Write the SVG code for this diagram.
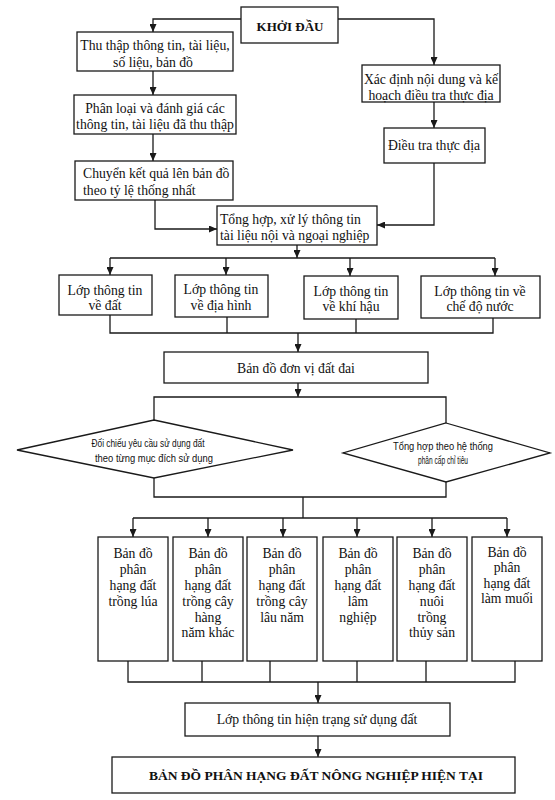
<svg xmlns="http://www.w3.org/2000/svg" width="555" height="800" viewBox="0 0 555 800">
<style>
.box{fill:#fff;stroke:#1a1a1a;stroke-width:1.3}
.t{font-family:"Liberation Serif","Times New Roman",serif;font-size:13.7px;fill:#111;text-anchor:middle}
.tl{font-family:"Liberation Serif","Times New Roman",serif;font-size:13.7px;fill:#111;text-anchor:start}
.b{font-family:"Liberation Serif","Times New Roman",serif;font-weight:bold;font-size:13.5px;fill:#111;text-anchor:middle}
.s{font-family:"Liberation Sans",Arial,sans-serif;font-size:10px;fill:#111;text-anchor:middle}
.c{fill:none;stroke:#1a1a1a;stroke-width:1.3}
</style>
<defs>
<marker id="ah" markerUnits="userSpaceOnUse" markerWidth="8" markerHeight="7" refX="8" refY="3.5" orient="auto">
<path d="M0,0 L8,3.5 L0,7 z" fill="#1a1a1a"/>
</marker>
</defs>
<rect width="555" height="800" fill="#fff"/>
<g id="connectors">
<path class="c" d="M241,19 H153 V32" marker-end="url(#ah)"/>
<path class="c" d="M338,19 H434 V65" marker-end="url(#ah)"/>
<path class="c" d="M153,71 V95" marker-end="url(#ah)"/>
<path class="c" d="M153,134 V161" marker-end="url(#ah)"/>
<path class="c" d="M434,102 V128" marker-end="url(#ah)"/>
<path class="c" d="M155,200 V229 H217" marker-end="url(#ah)"/>
<path class="c" d="M434,163 V225 H377" marker-end="url(#ah)"/>
<path class="c" d="M297,245 V258" marker-end="url(#ah)"/>
<path class="c" d="M110,258 H495"/>
<path class="c" d="M110,258 V275" marker-end="url(#ah)"/>
<path class="c" d="M226,258 V275" marker-end="url(#ah)"/>
<path class="c" d="M350,258 V276" marker-end="url(#ah)"/>
<path class="c" d="M495,258 V276" marker-end="url(#ah)"/>
<path class="c" d="M110,315 V333 H493 V318 M227,317 V333 M356,319 V333"/>
<path class="c" d="M298,333 V352" marker-end="url(#ah)"/>
<path class="c" d="M298,383 V397" marker-end="url(#ah)"/>
<path class="c" d="M154,420 V397 H446 V423"/>
<path class="c" d="M154,478 V497 H446 V482 M303,497 V518"/>
<path class="c" d="M133,518 H507"/>
<path class="c" d="M133,518 V537" marker-end="url(#ah)"/>
<path class="c" d="M208,518 V537" marker-end="url(#ah)"/>
<path class="c" d="M283,518 V537" marker-end="url(#ah)"/>
<path class="c" d="M357,518 V537" marker-end="url(#ah)"/>
<path class="c" d="M432,518 V537" marker-end="url(#ah)"/>
<path class="c" d="M507,518 V537" marker-end="url(#ah)"/>
<path class="c" d="M128,661 V682 H515 V661 M202,661 V682 M270,661 V682 M357,661 V682 M426,661 V682"/>
<path class="c" d="M318,682 V703" marker-end="url(#ah)"/>
<path class="c" d="M318,736 V757" marker-end="url(#ah)"/>
</g>
<g id="n-start"><rect class="box" x="241" y="7" width="97" height="36"/><text class="b" x="290" y="31" style="font-size:13px">KHỞI ĐẦU</text></g>
<g id="n-thuthap"><rect class="box" x="77" y="32" width="156" height="39"/><text class="t" x="155" y="50">Thu thập thông tin, tài liệu,</text><text class="t" x="153" y="67">số liệu, bản đồ</text></g>
<g id="n-phanloai"><rect class="box" x="74" y="95" width="162" height="39"/><text class="t" x="155" y="113">Phân loại và đánh giá các</text><text class="t" x="155" y="129">thông tin, tài liệu đã thu thập</text></g>
<g id="n-chuyen"><rect class="box" x="75" y="161" width="158" height="39"/><text class="tl" x="83" y="178">Chuyển kết quả lên bản đồ</text><text class="tl" x="83" y="195">theo tỷ lệ thống nhất</text></g>
<g id="n-xacdinh"><rect class="box" x="362" y="65" width="138" height="37"/><text class="t" x="431" y="84">Xác định nội dung và kế</text><text class="t" x="431" y="100">hoạch điều tra thực địa</text></g>
<g id="n-dieutra"><rect class="box" x="384" y="128" width="101" height="35"/><text class="t" x="434" y="150">Điều tra thực địa</text></g>
<g id="n-tonghop"><rect class="box" x="217" y="206" width="160" height="39"/><text class="tl" x="220" y="224">Tổng hợp, xử lý thông tin</text><text class="tl" x="220" y="240">tài liệu nội và ngoại nghiệp</text></g>
<g id="n-dat"><rect class="box" x="59" y="275" width="93" height="40"/><text class="t" x="105" y="295">Lớp thông tin</text><text class="t" x="105" y="310">về đất</text></g>
<g id="n-diahinh"><rect class="box" x="175" y="275" width="93" height="42"/><text class="t" x="221" y="294">Lớp thông tin</text><text class="t" x="221" y="310">về địa hình</text></g>
<g id="n-khihau"><rect class="box" x="304" y="276" width="94" height="43"/><text class="t" x="351" y="296">Lớp thông tin</text><text class="t" x="351" y="311">về khí hậu</text></g>
<g id="n-nuoc"><rect class="box" x="421" y="276" width="119" height="42"/><text class="t" x="480" y="296">Lớp thông tin về</text><text class="t" x="480" y="311">chế độ nước</text></g>
<g id="n-donvi"><rect class="box" x="164" y="352" width="264" height="31"/><text class="t" x="296" y="373">Bản đồ đơn vị đất đai</text></g>
<g id="n-doichieu"><polygon class="box" points="154,420 293,450 154,478 17,450"/><text class="s" x="148" y="446.5" textLength="113" lengthAdjust="spacingAndGlyphs">Đối chiếu yêu cầu sử dụng đất</text><text class="s" x="154" y="461.5" textLength="118" lengthAdjust="spacingAndGlyphs">theo từng mục đích sử dụng</text></g>
<g id="n-hethong"><polygon class="box" points="446,423 550,453 446,482 343,453"/><text class="s" x="443" y="449.5" textLength="100" lengthAdjust="spacingAndGlyphs">Tổng hợp theo hệ thống</text><text class="s" x="443" y="463.5" textLength="50" lengthAdjust="spacingAndGlyphs">phân cấp chỉ tiêu</text></g>
<g id="n-lua"><rect class="box" x="98" y="537" width="70" height="124"/><text class="t" x="133" y="558">Bản đồ</text><text class="t" x="133" y="574">phân</text><text class="t" x="133" y="590">hạng đất</text><text class="t" x="133" y="606">trồng lúa</text></g>
<g id="n-hangnam"><rect class="box" x="173" y="537" width="70" height="124"/><text class="t" x="208" y="558">Bản đồ</text><text class="t" x="208" y="574">phân</text><text class="t" x="208" y="590">hạng đất</text><text class="t" x="208" y="606">trồng cây</text><text class="t" x="208" y="622">hàng</text><text class="t" x="208" y="637">năm khác</text></g>
<g id="n-launam"><rect class="box" x="247" y="537" width="70" height="124"/><text class="t" x="282" y="558">Bản đồ</text><text class="t" x="282" y="574">phân</text><text class="t" x="282" y="590">hạng đất</text><text class="t" x="282" y="606">trồng cây</text><text class="t" x="282" y="622">lâu năm</text></g>
<g id="n-lamnghiep"><rect class="box" x="323" y="537" width="70" height="124"/><text class="t" x="358" y="558">Bản đồ</text><text class="t" x="358" y="574">phân</text><text class="t" x="358" y="590">hạng đất</text><text class="t" x="358" y="606">lâm</text><text class="t" x="358" y="622">nghiệp</text></g>
<g id="n-thuysan"><rect class="box" x="397" y="537" width="70" height="124"/><text class="t" x="432" y="558">Bản đồ</text><text class="t" x="432" y="574">phân</text><text class="t" x="432" y="590">hạng đất</text><text class="t" x="432" y="606">nuôi</text><text class="t" x="432" y="622">trồng</text><text class="t" x="432" y="637">thủy sản</text></g>
<g id="n-muoi"><rect class="box" x="472" y="537" width="70" height="124"/><text class="t" x="507" y="557">Bản đồ</text><text class="t" x="507" y="572">phân</text><text class="t" x="507" y="588">hạng đất</text><text class="t" x="507" y="603">làm muối</text></g>
<g id="n-hientrang"><rect class="box" x="185" y="703" width="265" height="33"/><text class="t" x="317" y="724">Lớp thông tin hiện trạng sử dụng đất</text></g>
<g id="n-final"><rect class="box" x="112" y="757" width="403" height="36"/><text class="b" x="316" y="780">BẢN ĐỒ PHÂN HẠNG ĐẤT NÔNG NGHIỆP HIỆN TẠI</text></g>
</svg>
